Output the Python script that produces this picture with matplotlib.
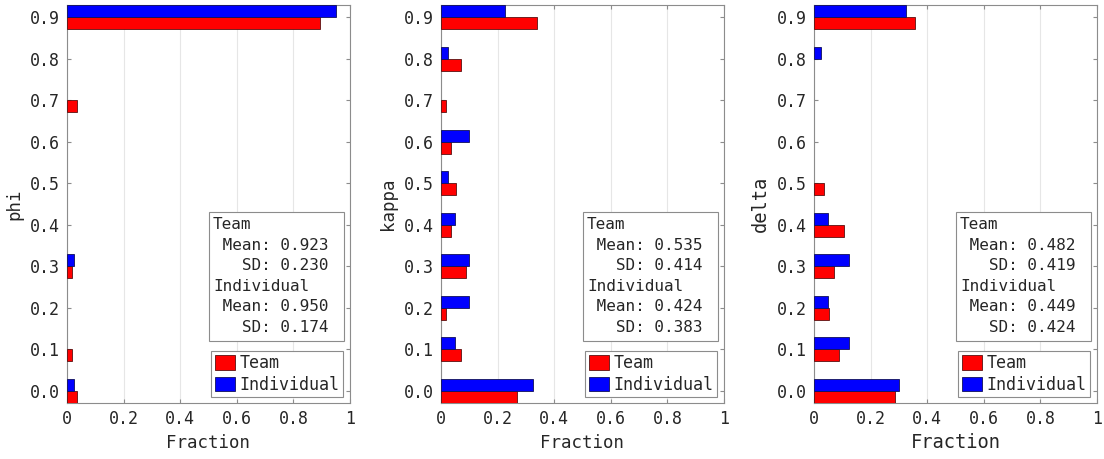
import numpy as np
import matplotlib
matplotlib.use("Agg")
import matplotlib.pyplot as plt
from matplotlib.patches import Rectangle

plt.rcParams['font.family'] = 'DejaVu Sans Mono'

# bin centres, shared by all three parameters
bins = [0.0, 0.1, 0.2, 0.3, 0.4, 0.5, 0.6, 0.7, 0.8, 0.9]

# fraction of subjects per bin (Team n=56, Individual n=40)
team_phi = [0.036, 0.018, 0, 0.018, 0, 0, 0, 0.036, 0, 0.893]
indiv_phi = [0.025, 0, 0, 0.025, 0, 0, 0, 0, 0, 0.950]

team_kappa = [0.268, 0.071, 0.018, 0.089, 0.036, 0.054, 0.036, 0.018, 0.071, 0.339]
indiv_kappa = [0.325, 0.050, 0.100, 0.100, 0.050, 0.025, 0.100, 0, 0.025, 0.225]

team_delta = [0.286, 0.089, 0.054, 0.071, 0.107, 0.036, 0, 0, 0, 0.357]
indiv_delta = [0.300, 0.125, 0.050, 0.125, 0.050, 0, 0, 0, 0.025, 0.325]

names = ['phi', 'kappa', 'delta']
team_stats = [(0.923, 0.230), (0.535, 0.414), (0.482, 0.419)]
indiv_stats = [(0.950, 0.174), (0.424, 0.383), (0.449, 0.424)]

team_vals = [team_phi, team_kappa, team_delta]
indiv_vals = [indiv_phi, indiv_kappa, indiv_delta]

fig = plt.figure(figsize=(11.04, 4.59), dpi=100)
lefts = [67, 441, 814]
edge = '#8c8c8c'
txt = '#262626'
h = 0.029


def bars(ax, y, vals, color, ec, label):
    # empty bins get no bar at all (no stray edge line at zero)
    vals = np.array(vals)
    keep = vals > 0
    ax.barh(y[keep], vals[keep], height=h, color=color, edgecolor=ec,
            linewidth=0.6, label=label, zorder=3)


for i in range(3):
    ax = fig.add_axes([lefts[i] / 1104, 56 / 459, 283 / 1104, 398 / 459])
    y = np.array(bins)
    bars(ax, y - h / 2, team_vals[i], '#ff0000', '#5a1010', 'Team')
    bars(ax, y + h / 2, indiv_vals[i], '#0000ff', '#10105a', 'Individual')

    ax.set_xlim(0, 1)
    ax.set_ylim(-h, 0.9 + h)
    ax.set_yticks(bins)
    ax.set_yticklabels(['%.1f' % b for b in bins])
    ax.set_xticks([0, 0.2, 0.4, 0.6, 0.8, 1])
    ax.set_xticklabels(['0', '0.2', '0.4', '0.6', '0.8', '1'])
    ax.grid(axis='x', color='#e6e6e6', linewidth=0.8, zorder=0)
    ax.tick_params(direction='in', length=3, top=True, right=True,
                   labelsize=12, colors=edge, labelcolor=txt, pad=5)
    for s in ax.spines.values():
        s.set_color(edge)
        s.set_linewidth(0.8)

    fs = 13.5 if i == 2 else 12.5
    ax.set_xlabel('Fraction', fontsize=fs, color=txt, labelpad=4)
    ax.set_ylabel(names[i], fontsize=fs, color=txt, labelpad=5)

    # summary statistics box
    ax.add_patch(Rectangle((0.502, 0.156), 0.477, 0.324, transform=ax.transAxes,
                           facecolor='white', edgecolor=edge, linewidth=0.8, zorder=5))
    tm, tsd = team_stats[i]
    im, isd = indiv_stats[i]
    lines = ['Team', ' Mean: %.3f' % tm, '   SD: %.3f' % tsd,
             'Individual', ' Mean: %.3f' % im, '   SD: %.3f' % isd]
    for k, line in enumerate(lines):
        ax.text(0.516, 0.448 - k * 0.0515, line, transform=ax.transAxes,
                fontsize=11.5, color=txt, va='center', ha='left', zorder=6)

    leg = ax.legend(loc='lower right', bbox_to_anchor=(0.975, 0.015),
                    borderaxespad=0, fancybox=False, framealpha=1,
                    edgecolor=edge, fontsize=12, handlelength=1.25,
                    handleheight=1.0, handletextpad=0.25, borderpad=0.2,
                    labelspacing=0.2)
    leg.get_frame().set_linewidth(0.8)
    for t in leg.get_texts():
        t.set_color(txt)

fig.savefig('out.png', dpi=100)
